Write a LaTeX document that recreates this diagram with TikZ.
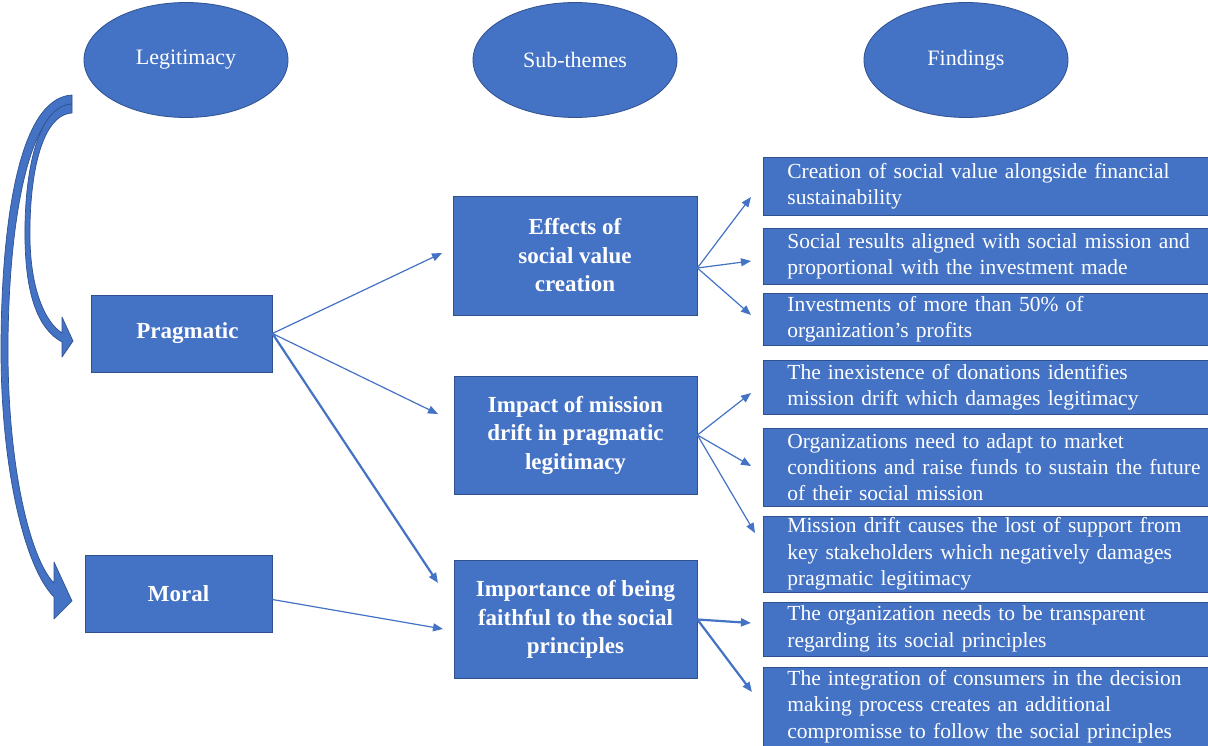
\documentclass[tikz,border=0pt]{standalone}
\usepackage{fontspec}
\setmainfont{Liberation Serif}
\usetikzlibrary{shapes.geometric,arrows.meta}
\definecolor{ofblue}{HTML}{4472C4}
\definecolor{ofedge}{HTML}{2F528F}
\begin{document}
\begin{tikzpicture}[x=1pt,y=-1pt,
 oval/.style={ellipse, fill=ofblue, draw=ofedge, line width=0.8pt, minimum width=204, minimum height=115, text=white, font=\fontsize{22}{26}\selectfont, inner sep=0},
 box/.style={rectangle, fill=ofblue, draw=ofedge, line width=0.8pt, text=white, font=\fontsize{23}{28.5}\selectfont\bfseries, align=center, inner sep=0},
 find/.style={rectangle, fill=ofblue, draw=ofedge, line width=0.8pt, text=white, font=\fontsize{21.5}{26.3}\selectfont, align=left, anchor=west, inner xsep=24, inner ysep=0, text width=424},
 conn/.style={draw=ofblue, line width=1.2pt, -{Triangle[length=10,width=8]}},
 connthick/.style={conn, line width=2.2pt},
 bent/.style={fill=ofblue, draw=ofedge, line width=0.7pt, line join=round}
]
\useasboundingbox (0,0) rectangle (1208,746);
\fill[white] (0,0) rectangle (1208,746);

% header ellipses
\node[oval] (leg) at (186,60) {Legitimacy};
\node[oval] (sub) at (575,60) {Sub-themes};
\node[oval] (fnd) at (966,60) {Findings};

% curved block arrows
\draw[bent] (72,95) .. controls (15,98) and (1,240) .. (1,350)
  .. controls (1,470) and (25,568) .. (54,597)
  -- (54,619) -- (72,601) -- (54,562) -- (54,583)
  .. controls (31,560) and (8,470) .. (8,350)
  .. controls (8,250) and (22,110) .. (72,104) -- cycle;
\draw[bent] (72,104) .. controls (35,106) and (24,180) .. (25,240)
  .. controls (26,300) and (40,330) .. (62,342)
  -- (62,357) -- (73,341) -- (62,317) -- (62,333)
  .. controls (45,322) and (31,290) .. (30,240)
  .. controls (29,180) and (40,115) .. (72,113) -- cycle;

% left boxes
\node[box, minimum width=181, minimum height=77] (prag) at (181.5,333.5) {\hspace*{12pt}Pragmatic};
\node[box, minimum width=187, minimum height=77] (moral) at (178.5,593.5) {Moral};

% sub-theme boxes
\node[box, minimum width=244, minimum height=119] (eff) at (575,255.5) {Effects of\\social value\\creation};
\node[box, minimum width=243, minimum height=118] (imp) at (575.5,435) {Impact of mission\\drift in pragmatic\\legitimacy};
\node[box, minimum width=243, minimum height=118] (imp2) at (575.5,619.5) {Importance of being\\faithful to the social\\principles};

% findings
\node[find, minimum height=58] (f1) at (763,186) {Creation of social value alongside financial\\sustainability};
\node[find, minimum height=56] (f2) at (763,256) {Social results aligned with social mission and\\proportional with the investment made};
\node[find, minimum height=52] (f3) at (763,319) {Investments of more than 50\% of\\organization’s profits};
\node[find, minimum height=54] (f4) at (763,387) {The inexistence of donations identifies\\mission drift which damages legitimacy};
\node[find, minimum height=78] (f5) at (763,467) {Organizations need to adapt to market\\conditions and raise funds to sustain the future\\of their social mission};
\node[find, minimum height=76] (f6) at (763,554) {Mission drift causes the lost of support from\\key stakeholders which negatively damages\\pragmatic legitimacy};
\node[find, minimum height=54] (f7) at (763,629) {The organization needs to be transparent\\regarding its social principles};
\node[find, minimum height=79] (f8) at (763,706.5) {The integration of consumers in the decision\\making process creates an additional\\compromisse to follow the social principles};

% arrow end points
\coordinate (a1) at (442,253);
\coordinate (a2) at (438,414);
\coordinate (a3) at (438,583);
\coordinate (a4) at (443,629);
\coordinate (b1) at (751,197);
\coordinate (b2) at (751,261);
\coordinate (b3) at (751,315);
\coordinate (c1) at (751,393);
\coordinate (c2) at (751,466);
\coordinate (c3) at (755,533);
\coordinate (d1) at (751,623);
\coordinate (d2) at (752,692);

% connectors
\draw[conn] (prag.east) -- (a1);
\draw[conn] (prag.east) -- (a2);
\draw[connthick] (prag.east) -- (a3);
\draw[conn] ([yshift=-6pt]moral.east) -- (a4);
\draw[conn] ([yshift=-12.5pt]eff.east) -- (b1);
\draw[conn] ([yshift=-12.5pt]eff.east) -- (b2);
\draw[conn] ([yshift=-12.5pt]eff.east) -- (b3);
\draw[conn] (imp.east) -- (c1);
\draw[conn] (imp.east) -- (c2);
\draw[conn] (imp.east) -- (c3);
\draw[connthick] (imp2.east) -- (d1);
\draw[connthick] (imp2.east) -- (d2);
\end{tikzpicture}
\end{document}
